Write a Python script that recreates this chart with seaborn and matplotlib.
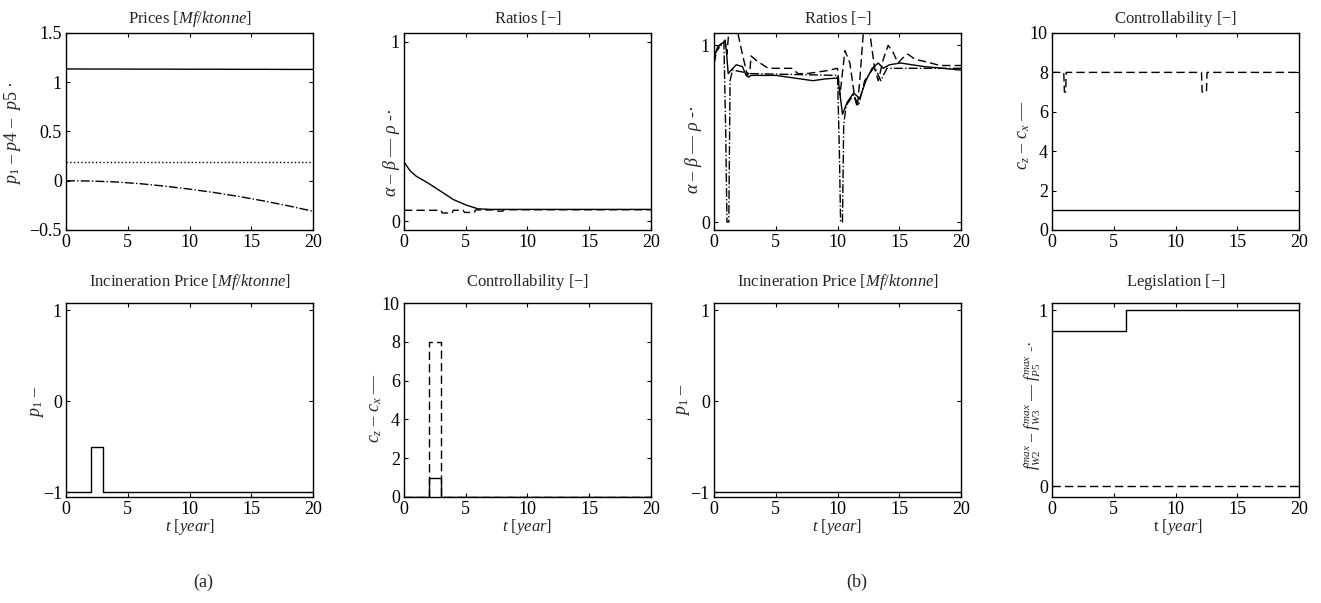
import matplotlib
matplotlib.use("Agg")
import matplotlib.pyplot as plt
from matplotlib.ticker import FuncFormatter
import seaborn as sns

# ---- values ----
# (a) top-left: prices
t_price = [0, 2, 4, 6, 8, 10, 12, 14, 16, 18, 20]
p1_price = [1.135, 1.134, 1.134, 1.133, 1.133, 1.132, 1.132, 1.131, 1.131, 1.13, 1.13]
p4_price = [0.19, 0.19, 0.19, 0.19, 0.19, 0.19, 0.19, 0.19, 0.19, 0.19, 0.19]
p5_price = [0.0, -0.003, -0.012, -0.03, -0.055, -0.085, -0.12, -0.16, -0.205, -0.255, -0.31]

# (a) ratios
t_alpha_a = [0, 0.5, 1, 2, 3, 4, 5, 6, 7, 20]
alpha_a = [0.33, 0.28, 0.25, 0.21, 0.165, 0.12, 0.09, 0.068, 0.065, 0.065]
t_beta_a = [0, 3.0, 3.1, 3.9, 4.0, 4.8, 4.9, 5.7, 5.8, 7.3, 7.4, 8.0, 8.1, 20]
beta_a = [0.06, 0.06, 0.045, 0.045, 0.06, 0.06, 0.048, 0.048, 0.062, 0.062,
          0.055, 0.055, 0.063, 0.063]

# (b) ratios
t_alpha_b = [0, 0.1, 0.3, 0.6, 0.9, 1.0, 1.15, 1.4, 1.8, 2.3, 2.6, 2.8, 3.0, 5, 7, 8,
             9, 10, 10.1, 10.4, 10.8, 11.3, 11.8, 12.3, 12.8, 13.3, 13.7, 14.2, 15.1,
             17, 20]
alpha_b = [0.88, 0.95, 0.99, 1.01, 1.02, 0.97, 0.84, 0.86, 0.89, 0.88, 0.83, 0.82,
           0.83, 0.83, 0.81, 0.80, 0.81, 0.815, 0.78, 0.61, 0.68, 0.73, 0.70, 0.80,
           0.87, 0.90, 0.87, 0.89, 0.90, 0.88, 0.86]
t_beta_b = [0, 0.3, 0.9, 1.05, 1.2, 1.9, 2.3, 2.7, 2.9, 3.0, 3.5, 4.4, 6.3, 6.8, 7.5,
            9, 10, 10.2, 10.6, 11.0, 11.4, 11.6, 11.8, 12.1, 12.6, 13.0, 13.3, 13.7,
            14.1, 14.5, 14.9, 15.3, 15.7, 16.3, 17, 18.3, 20]
beta_b = [0.90, 0.99, 1.03, 0.95, 1.08, 1.08, 0.95, 0.83, 0.85, 0.94, 0.91, 0.87,
          0.87, 0.84, 0.84, 0.855, 0.87, 0.72, 0.97, 0.90, 0.70, 0.65, 0.80, 1.08,
          1.08, 0.87, 0.80, 0.92, 1.0, 0.96, 0.90, 0.93, 0.95, 0.92, 0.91, 0.886,
          0.886]
t_rho_b = [0, 0.8, 0.95, 1.05, 1.2, 1.3, 1.5, 3, 10, 10.15, 10.25, 10.4, 10.5, 10.7,
           11.3, 11.7, 12.2, 13.0, 13.5, 14, 20]
rho_b = [0.95, 1.02, 0.5, 0.0, 0.0, 0.8, 0.86, 0.84, 0.83, 0.4, 0.0, 0.0, 0.55, 0.66,
         0.72, 0.66, 0.80, 0.88, 0.80, 0.87, 0.87]

# (b) controllability
t_cz_b = [0, 20]
cz_b = [1.0, 1.0]
t_cx_b = [0, 0.95, 1.0, 1.1, 1.15, 12.1, 12.15, 12.5, 12.55, 20]
cx_b = [8, 8, 7, 7, 8, 8, 7, 7, 8, 8]

# (a) incineration price / controllability (pulse)
t_pulse = [0, 2, 2, 3, 3, 20]
p1_a = [-1, -1, -0.5, -0.5, -1, -1]
cz_a = [0, 0, 1, 1, 0, 0]
cx_a = [0, 0, 8, 8, 0, 0]

# (b) incineration price
t_p1_b = [0, 20]
p1_b = [-1, -1]

# (b) legislation
t_leg = [0, 6, 6, 20]
fw2_leg = [0.88, 0.88, 1.0, 1.0]
t_leg0 = [0, 20]
fw3_leg = [0.0, 0.0]

# ---- style ----
sns.set_style("ticks", {"xtick.direction": "in", "ytick.direction": "in"})
plt.rcParams["font.family"] = ["Liberation Serif", "DejaVu Serif"]
plt.rcParams["mathtext.fontset"] = "custom"
plt.rcParams["mathtext.rm"] = "Liberation Serif"
plt.rcParams["mathtext.it"] = "Liberation Serif:italic"
plt.rcParams["mathtext.bf"] = "Liberation Serif:bold"
plt.rcParams["axes.linewidth"] = 1.0

fig = plt.figure(figsize=(13.21, 6.03), dpi=100)
lefts = [0.0500, 0.3058, 0.5405, 0.7964]
w = 0.187
top_b, top_h = 0.6186, 0.3267
bot_b, bot_h = 0.1758, 0.3217

fmt = FuncFormatter(lambda v, pos: f"{v:g}".replace("-", "\u2212"))
DASH = (0, (6, 3))


def line(ax, x, y, ls="-"):
    sns.lineplot(x=x, y=y, ax=ax, color="k", lw=1.0, linestyle=ls,
                 sort=False, estimator=None)


def setup(ax, title, ylabel, ylim, yticks, lab_xy, pad, xlabel=None, xlab_x=0.5,
          ysize=13):
    ax.set_xlim(0, 20)
    ax.set_ylim(*ylim)
    ax.set_xticks([0, 5, 10, 15, 20])
    ax.set_yticks(yticks)
    ax.yaxis.set_major_formatter(fmt)
    ax.tick_params(top=True, right=True, direction="in", length=3, pad=3,
                   labelsize=13, color="k", labelcolor="k")
    ax.set_title(title, fontsize=12, pad=pad)
    ax.set_ylabel(ylabel, fontsize=ysize, va="center")
    ax.yaxis.set_label_coords(*lab_xy)
    if xlabel:
        ax.set_xlabel(xlabel, fontsize=12, va="center")
        ax.xaxis.set_label_coords(xlab_x, -0.155)
    else:
        ax.set_xlabel("")
    for s in ax.spines.values():
        s.set_color("k")


axs = [fig.add_axes([l, top_b, w, top_h]) for l in lefts] + \
      [fig.add_axes([l, bot_b, w, bot_h]) for l in lefts]

# top row
ax = axs[0]
line(ax, t_price, p1_price, "-")
line(ax, t_price, p4_price, ":")
line(ax, t_price, p5_price, "-.")
setup(ax, r"Prices $\mathit{[Mf/ktonne]}$", r"$p_1$ – $p4$ –  $p5$ ·",
      (-0.5, 1.5), [-0.5, 0, 0.5, 1, 1.5], (-0.215, 0.49), 7)

ax = axs[1]
line(ax, t_alpha_a, alpha_a, "-")
line(ax, t_beta_a, beta_a, DASH)
setup(ax, r"Ratios $\mathit{[-]}$", r"$\alpha$ – $\beta$ –– $\rho$ -·",
      (-0.05, 1.05), [0, 1], (-0.049, 0.39), 7)

ax = axs[2]
line(ax, t_alpha_b, alpha_b, "-")
line(ax, t_beta_b, beta_b, DASH)
line(ax, t_rho_b, rho_b, "-.")
setup(ax, r"Ratios $\mathit{[-]}$", r"$\alpha$ – $\beta$ –– $\rho$ -·",
      (-0.045, 1.07), [0, 1], (-0.085, 0.406), 7)

ax = axs[3]
line(ax, t_cz_b, cz_b, "-")
line(ax, t_cx_b, cx_b, DASH)
setup(ax, r"Controllability $\mathit{[-]}$", r"$c_z$ – $c_x$ ––",
      (0, 10), [0, 2, 4, 6, 8, 10], (-0.117, 0.48), 7)

# bottom row
ax = axs[4]
line(ax, t_pulse, p1_a, "-")
setup(ax, r"Incineration Price $\mathit{[Mf/ktonne]}$", r"$p_1$ –",
      (-1.05, 1.08), [-1, 0, 1], (-0.117, 0.49), 12, r"$t$ $\mathit{[year]}$")

ax = axs[5]
line(ax, t_pulse, cz_a, "-")
line(ax, t_pulse, cx_a, DASH)
setup(ax, r"Controllability $\mathit{[-]}$", r"$c_z$ – $c_x$ ––",
      (0, 10), [0, 2, 4, 6, 8, 10], (-0.117, 0.46), 12, r"$t$ $\mathit{[year]}$")

ax = axs[6]
line(ax, t_p1_b, p1_b, "-")
setup(ax, r"Incineration Price $\mathit{[Mf/ktonne]}$", r"$p_1$ –",
      (-1.05, 1.08), [-1, 0, 1], (-0.125, 0.5), 12, r"$t$ $\mathit{[year]}$")

ax = axs[7]
line(ax, t_leg, fw2_leg, "-")
line(ax, t_leg0, fw3_leg, DASH)
setup(ax, r"Legislation $\mathit{[-]}$",
      r"$f_{W2}^{max}$ – $f_{W3}^{max}$ –– $f_{P5}^{max}$ -·",
      (-0.06, 1.04), [0, 1], (-0.081, 0.47), 12, r"t $\mathit{[year]}$", 0.51,
      ysize=11.5)

fig.text(203 / 1321, 1 - 582 / 603, "(a)", ha="center", va="center", fontsize=13)
fig.text(857 / 1321, 1 - 582 / 603, "(b)", ha="center", va="center", fontsize=13)

fig.savefig("out.png", dpi=100, facecolor="white")
